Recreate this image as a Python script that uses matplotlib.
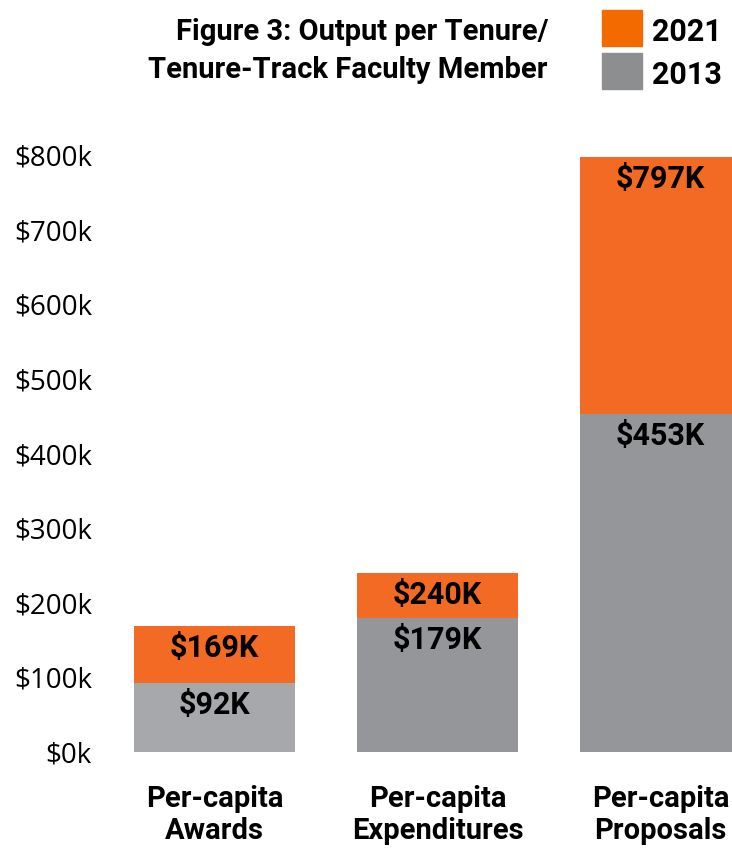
import matplotlib
matplotlib.use("Agg")
import matplotlib.pyplot as plt
from matplotlib.patches import Rectangle

categories = ["Per-capita\nAwards", "Per-capita\nExpenditures", "Per-capita\nProposals"]
values_2021 = [169, 240, 797]
values_2013 = [92, 179, 453]
labels_2021 = ["$169K", "$240K", "$797K"]
labels_2013 = ["$92K", "$179K", "$453K"]
yticks = [0, 100, 200, 300, 400, 500, 600, 700, 800]
ytick_labels = ["$0k", "$100k", "$200k", "$300k", "$400k", "$500k", "$600k", "$700k", "$800k"]

orange = "#F26A24"
gray = "#959699"
gray_light = "#A7A8AC"
gray_colors = [gray_light, gray, gray]
bold_font = "Roboto"

W, H = 732, 848
fig = plt.figure(figsize=(W / 100, H / 100), dpi=100)
left_px, right_px, bottom_px, top_px = 103, 732, 752, 140
ax = fig.add_axes([left_px / W, (H - bottom_px) / H, (right_px - left_px) / W, (bottom_px - top_px) / H])
unit = (752 - 155) / 800.0
ax.set_ylim(0, (bottom_px - top_px) / unit)
ax.set_xlim(-0.5, (right_px - 214.5) / 223.0)

x = list(range(len(categories)))
ax.bar(x, values_2021, width=0.72, color=orange, zorder=2)
ax.bar(x, values_2013, width=0.72, color=gray_colors, zorder=3)

for i in x:
    ax.annotate(labels_2021[i], (i, values_2021[i]), xytext=(0, -5), textcoords="offset points",
                ha="center", va="top", fontsize=22, fontweight="bold", family=bold_font, zorder=4)
    ax.annotate(labels_2013[i], (i, values_2013[i]), xytext=(0, -5), textcoords="offset points",
                ha="center", va="top", fontsize=22, fontweight="bold", family=bold_font, zorder=4)

for s in ax.spines.values():
    s.set_visible(False)
ax.set_yticks(yticks)
ax.set_yticklabels(ytick_labels, fontsize=20, family="Open Sans")
ax.set_xticks(x)
ax.set_xticklabels(categories, fontsize=21, fontweight="bold", family=bold_font, linespacing=1.15)
ax.tick_params(axis="y", length=0, pad=8)
ax.tick_params(axis="x", length=0, pad=24)

# title
fig.text(548 / W, 1 - 40 / H, "Figure 3: Output per Tenure/", ha="right", va="baseline",
         fontsize=21, fontweight="bold", family=bold_font)
fig.text(548 / W, 1 - 78 / H, "Tenure-Track Faculty Member", ha="right", va="baseline",
         fontsize=21, fontweight="bold", family=bold_font)

# legend
for (y0, col, lab) in [(10, "#F26A00", "2021"), (53, "#8C8E90", "2013")]:
    fig.patches.append(Rectangle((602 / W, 1 - (y0 + 36) / H), 40 / W, 36 / H,
                                 transform=fig.transFigure, color=col))
    fig.text(652 / W, 1 - (y0 + 31) / H, lab, ha="left", va="baseline",
             fontsize=22, fontweight="bold", family=bold_font)

fig.savefig("out.png", dpi=100)
